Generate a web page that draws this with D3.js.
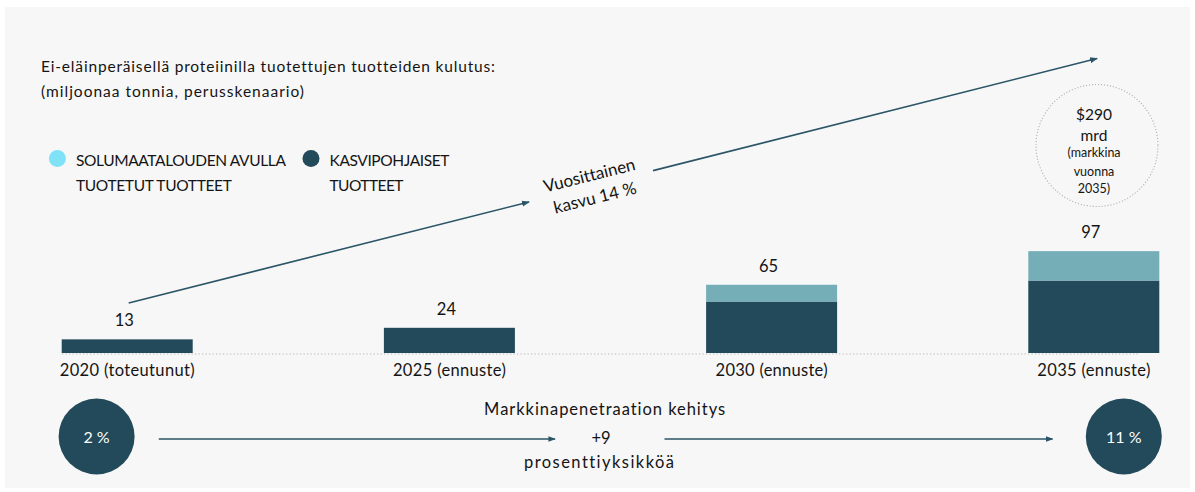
<!DOCTYPE html>
<html>
<head>
<meta charset="utf-8">
<script src="https://cdn.jsdelivr.net/npm/d3@7"></script>
<style>
  html, body { margin: 0; padding: 0; background: #ffffff; }
  svg { display: block; }
  text { font-family: Lato, "Noto Sans", "DejaVu Sans", sans-serif; fill: #141414; font-variant-ligatures: none; }
</style>
</head>
<body>
<svg id="chart" width="1195" height="492"></svg>
<script>
// ---- data ----
const categories = ["2020 (toteutunut)", "2025 (ennuste)", "2030 (ennuste)", "2035 (ennuste)"];
const plantBased = [13, 24, 49, 69];      // Kasvipohjaiset tuotteet
const cellular   = [0, 0, 16, 28];        // Solumaatalouden avulla tuotetut tuotteet
const totals     = [13, 24, 65, 97];
const seriesNames = ["SOLUMAATALOUDEN AVULLA|TUOTETUT TUOTTEET", "KASVIPOHJAISET|TUOTTEET"];
const titleLines = ["Ei-eläinperäisellä proteiinilla tuotettujen tuotteiden kulutus:", "(miljoonaa tonnia, perusskenaario)"];
const growthLabel = ["Vuosittainen", "kasvu 14 %"];
const marketLabel = ["$290", "mrd", "(markkina", "vuonna", "2035)"];
const penetration = ["2 %", "11 %"];
const penetrationLabel = ["Markkinapenetraation kehitys", "+9", "prosenttiyksikköä"];

// ---- styles ----
const DARK = "#234a5a";
const LIGHT = "#76aeb8";
const LEGEND_LIGHT = "#7fe2f6";
const ARROW = "#2b5566";

const svg = d3.select("#chart");

// panel background
svg.append("rect").attr("x", 5).attr("y", 7).attr("width", 1185).attr("height", 481).attr("fill", "#f7f7f7");

const defs = svg.append("defs");
defs.append("marker").attr("id", "arr").attr("viewBox", "0 0 8 8")
  .attr("refX", 7).attr("refY", 4).attr("markerWidth", 5).attr("markerHeight", 5)
  .attr("orient", "auto").attr("markerUnits", "strokeWidth")
  .append("path").attr("d", "M0,1 L8,4 L0,7 z").attr("fill", ARROW);

// scales
const x = d3.scaleBand().domain(categories).range([61.7, 1159.3]).paddingInner(0.5934).paddingOuter(0);
const y = d3.scaleLinear().domain([0, 100]).range([353, 248]);

const stackData = categories.map((c, i) => ({ cat: c, plant: plantBased[i], cell: cellular[i] }));
const stack = d3.stack().keys(["plant", "cell"])(stackData);
const colors = { plant: DARK, cell: LIGHT };

svg.append("g").selectAll("g").data(stack).join("g")
  .attr("fill", d => colors[d.key])
  .selectAll("rect").data(d => d.filter(s => s[1] > s[0])).join("rect")
  .attr("x", d => x(d.data.cat))
  .attr("width", x.bandwidth())
  .attr("y", d => y(d[1]))
  .attr("height", d => y(d[0]) - y(d[1]));

// dotted baseline
svg.append("line").attr("x1", 62).attr("x2", 1138).attr("y1", y(0) + 1).attr("y2", y(0) + 1)
  .attr("stroke", "#b8b8b8").attr("stroke-width", 1.2).attr("stroke-dasharray", "1.3,2.2");

// value labels
svg.append("g").selectAll("text").data(categories).join("text")
  .attr("x", d => x(d) + x.bandwidth() / 2 - 3)
  .attr("y", (d, i) => y(totals[i]) - 13)
  .attr("text-anchor", "middle").attr("font-size", 16.5)
  .text((d, i) => totals[i]);

// category labels
const catWidths = [135, 113, 112, 113];
svg.append("g").selectAll("text").data(categories).join("text")
  .attr("x", d => x(d) + x.bandwidth() / 2)
  .attr("y", 376)
  .attr("text-anchor", "middle").attr("font-size", 16.5)
  .attr("textLength", (d, i) => catWidths[i]).attr("lengthAdjust", "spacing")
  .text(d => d);

// title
const titleW = [454, 263];
svg.append("g").selectAll("text").data(titleLines).join("text")
  .attr("x", 41).attr("y", (d, i) => 72 + i * 25)
  .attr("font-size", 15.5)
  .attr("textLength", (d, i) => titleW[i]).attr("lengthAdjust", "spacing")
  .text(d => d);

// legend
const legendX = [57.4, 311];
const legendColors = [LEGEND_LIGHT, DARK];
const legendW = [[210, 156], [120, 74]];
const lg = svg.append("g").selectAll("g").data(seriesNames).join("g");
lg.append("circle").attr("cx", (d, i) => legendX[i]).attr("cy", 158.5).attr("r", 8.5)
  .attr("fill", (d, i) => legendColors[i]);
lg.each(function (d, i) {
  d3.select(this).selectAll("text").data(d.split("|")).join("text")
    .attr("x", legendX[i] + 18.5).attr("y", (t, j) => 165.5 + j * 25.5)
    .attr("font-size", 15.5)
    .attr("textLength", (t, j) => legendW[i][j]).attr("lengthAdjust", "spacing")
    .text(t => t);
});

// growth arrow (two segments around the label)
const gx0 = x(categories[0]) + x.bandwidth() / 2 + 1.5, gy0 = 303;
const slope = -0.2525;
const segs = [[gx0, 529], [653, 1097]];
svg.append("g").selectAll("line").data(segs).join("line")
  .attr("x1", d => d[0]).attr("y1", d => gy0 + slope * (d[0] - gx0))
  .attr("x2", d => d[1]).attr("y2", d => gy0 + slope * (d[1] - gx0))
  .attr("stroke", ARROW).attr("stroke-width", 1.6).attr("marker-end", "url(#arr)");

const gl = svg.append("g").attr("transform", "translate(592,186) rotate(-14)");
gl.selectAll("text").data(growthLabel).join("text")
  .attr("x", 0).attr("y", (d, i) => -5 + i * 23)
  .attr("text-anchor", "middle").attr("font-size", 17)
  .text(d => d);

// market dotted circle
svg.append("circle").attr("cx", 1097).attr("cy", 145.5).attr("r", 61)
  .attr("fill", "none").attr("stroke", "#a9a9a9").attr("stroke-width", 1.1).attr("stroke-dasharray", "1,2");
const mY = [119.5, 140.5, 157, 175.5, 193];
const mSize = [15.5, 15.5, 12.5, 12.5, 12.5];
svg.append("g").selectAll("text").data(marketLabel).join("text")
  .attr("x", 1094).attr("y", (d, i) => mY[i])
  .attr("text-anchor", "middle").attr("font-size", (d, i) => mSize[i])
  .text(d => d);

// penetration circles
const pX = [96.6, 1123.8];
svg.append("g").selectAll("circle").data(penetration).join("circle")
  .attr("cx", (d, i) => pX[i]).attr("cy", 436.5).attr("r", 38)
  .attr("fill", DARK);
svg.append("g").selectAll("text").data(penetration).join("text")
  .attr("x", (d, i) => pX[i]).attr("y", 442.5)
  .attr("text-anchor", "middle").attr("font-size", 16)
  .style("fill", "#ffffff")
  .text(d => d);

// penetration arrows
const pSegs = [[158.8, 555], [664.5, 1052.4]];
svg.append("g").selectAll("line").data(pSegs).join("line")
  .attr("x1", d => d[0]).attr("x2", d => d[1]).attr("y1", 439).attr("y2", 439)
  .attr("stroke", ARROW).attr("stroke-width", 1.5).attr("marker-end", "url(#arr)");

const plY = [415, 444, 468];
const plX = [604.6, 601, 599];
const plW = [241, null, 150];
svg.append("g").selectAll("text").data(penetrationLabel).join("text")
  .attr("x", (d, i) => plX[i]).attr("y", (d, i) => plY[i])
  .attr("text-anchor", "middle").attr("font-size", 16.5)
  .each(function (d, i) { if (plW[i]) d3.select(this).attr("textLength", plW[i]).attr("lengthAdjust", "spacing"); })
  .text(d => d);
</script>
</body>
</html>
